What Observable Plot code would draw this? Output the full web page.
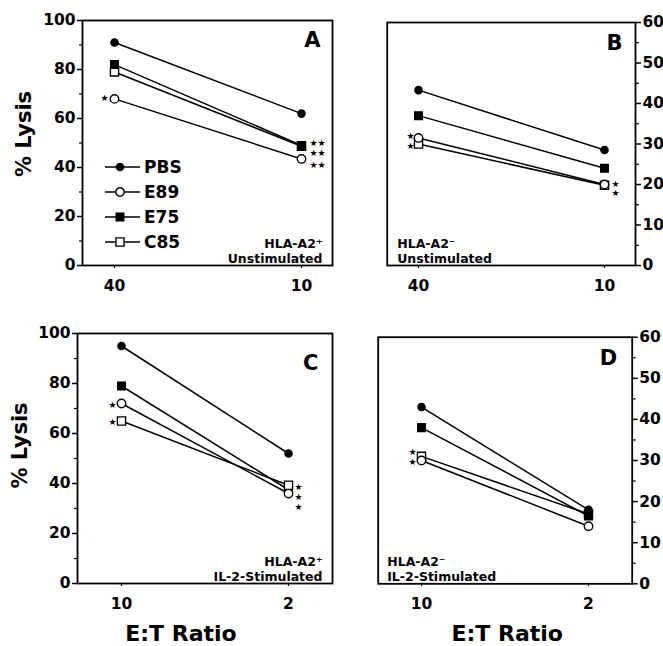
<!DOCTYPE html>
<html><head><meta charset="utf-8">
<script src="https://cdn.jsdelivr.net/npm/d3@7"></script>
<script src="https://cdn.jsdelivr.net/npm/@observablehq/plot@0.6"></script>
<style>
body{margin:0;background:#fff;}
#chart{position:relative;width:663px;height:646px;font-family:"DejaVu Sans",sans-serif;}
#chart > svg{position:absolute;}
</style></head><body><div id="chart"></div>
<script>
// Series (treatment groups)
const series = ["PBS", "E89", "E75", "C85"];
const seriesSymbol = {PBS: "circle", E89: "circle", E75: "square", C85: "square"};
const seriesFill = {PBS: "black", E89: "white", E75: "black", C85: "white"};
const seriesR = {PBS: 3.6, E89: 4.2, E75: 4.3, C85: 4.6};

// E:T ratios
const ratiosTop = ["40", "10"];
const ratiosBottom = ["10", "2"];

// % Lysis values, in series order [PBS, E89, E75, C85]
const lysisA_first = [91, 68, 82, 79];     // E:T 40
const lysisA_second = [62, 43.5, 49, 48.7]; // E:T 10
const lysisB_first = [43.3, 31.5, 37, 30];
const lysisB_second = [28.5, 20, 24, 19.8];
const lysisC_first = [95, 72, 79, 65];     // E:T 10
const lysisC_second = [52, 36, 37.5, 39.3]; // E:T 2
const lysisD_first = [43, 30, 38, 31];
const lysisD_second = [18, 14, 16.5, 17];

// Axis ticks
const ticksLeftMajor = [0, 20, 40, 60, 80, 100];
const ticksLeftMinor = [10, 30, 50, 70, 90];
const ticksRightMajor = [0, 10, 20, 30, 40, 50, 60];
const ticksRightMinor = [5, 15, 25, 35, 45, 55];

// Significance marks
const starsA = [
  {ratio: "40", value: 68.5, mark: "★", side: "left"},
  {ratio: "10", value: 50.3, mark: "★★", side: "right"},
  {ratio: "10", value: 46.2, mark: "★★", side: "right"},
  {ratio: "10", value: 41.2, mark: "★★", side: "right"}
];
const starsB = [
  {ratio: "40", value: 32.1, mark: "★", side: "left"},
  {ratio: "40", value: 29.5, mark: "★", side: "left"},
  {ratio: "10", value: 20.3, mark: "★", side: "right"},
  {ratio: "10", value: 17.9, mark: "★", side: "right"}
];
const starsC = [
  {ratio: "10", value: 71.5, mark: "★", side: "left"},
  {ratio: "10", value: 64.8, mark: "★", side: "left"},
  {ratio: "2", value: 38.6, mark: "★", side: "right"},
  {ratio: "2", value: 34.8, mark: "★", side: "right"},
  {ratio: "2", value: 30.9, mark: "★", side: "right"}
];
const starsD = [
  {ratio: "10", value: 32.2, mark: "★", side: "left"},
  {ratio: "10", value: 29.8, mark: "★", side: "left"}
];

const panelLetters = ["A", "B", "C", "D"];
const conditions = [
  "HLA-A2⁺\nUnstimulated",
  "HLA-A2⁻\nUnstimulated",
  "HLA-A2⁺\nIL-2-Stimulated",
  "HLA-A2⁻\nIL-2-Stimulated"
];
const yLabel = "% Lysis";
const xLabel = "E:T Ratio";

function drawPanel(cfg) {
  const data = [];
  series.forEach((s, i) => {
    data.push({series: s, ratio: cfg.ratios[0], value: cfg.first[i]});
    data.push({series: s, ratio: cfg.ratios[1], value: cfg.second[i]});
  });
  const marks = [
    Plot.axisY({anchor: cfg.yAnchor, ticks: cfg.yMajor, tickSize: 5, tickPadding: 2, fontSize: 15.5, label: null, strokeWidth: 1.5}),
    Plot.axisY({anchor: cfg.yAnchor, ticks: cfg.yMinor, tickSize: 3, tickFormat: () => "", label: null, strokeWidth: 1.2}),
    Plot.axisX({anchor: "bottom", tickSize: 3, tickPadding: 11, fontSize: 15.5, label: null, strokeWidth: 1.2}),
    Plot.frame({strokeWidth: 1.8}),
    Plot.line(data, {x: "ratio", y: "value", z: "series", stroke: "black", strokeWidth: 1.5}),
    ...cfg.order.map(s => Plot.dot(data.filter(d => d.series === s), {
      x: "ratio", y: "value", symbol: seriesSymbol[s], r: seriesR[s],
      fill: seriesFill[s], stroke: "black", strokeWidth: 1.4
    })),
    Plot.text(cfg.stars.filter(d => d.side === "left"), {x: "ratio", y: "value", text: "mark", textAnchor: "end", lineAnchor: "middle", dx: cfg.starLeftDx, dy: 0.5, fontSize: 9, fontWeight: "normal"}),
    Plot.text(cfg.stars.filter(d => d.side === "right"), {x: "ratio", y: "value", text: "mark", textAnchor: "start", lineAnchor: "middle", dx: cfg.starRightDx, dy: 0.5, fontSize: 9, fontWeight: "normal"}),
    Plot.text([cfg.letter], {text: d => d, frameAnchor: "top-right", textAnchor: "end", lineAnchor: "top", dx: cfg.letterDx, dy: cfg.letterDy, fontSize: 21}),
    Plot.text([cfg.condition], {text: d => d, frameAnchor: cfg.condAnchor, textAnchor: cfg.condAnchor === "bottom-left" ? "start" : "end", lineAnchor: "bottom", dx: cfg.condDx, dy: cfg.condDy, fontSize: 12.5, lineHeight: 1.2})
  ];
  if (cfg.showYLabel) marks.push(Plot.text([yLabel], {text: d => d, frameAnchor: "left", rotate: -90, textAnchor: "middle", lineAnchor: "middle", dx: cfg.yLabelDx, dy: cfg.yLabelDy, fontSize: 21}));
  if (cfg.showXLabel) marks.push(Plot.text([xLabel], {text: d => d, frameAnchor: "bottom", textAnchor: "middle", lineAnchor: "middle", dx: cfg.xLabelDx, dy: 50, fontSize: 22}));
  const svg = Plot.plot({
    width: cfg.width, height: cfg.height,
    marginLeft: cfg.ml, marginRight: cfg.mr, marginTop: cfg.mt, marginBottom: cfg.mb,
    x: {type: "point", domain: cfg.ratios, padding: cfg.xPad},
    y: {domain: cfg.yDomain},
    style: {fontFamily: "DejaVu Sans", fontWeight: "bold", background: "transparent", overflow: "visible", color: "black"},
    marks
  });
  svg.style.left = cfg.left + "px";
  svg.style.top = cfg.top + "px";
  document.getElementById("chart").appendChild(svg);
}

drawPanel({
  left: 0, top: 0, width: 335, height: 300, ml: 82, mr: 3, mt: 20, mb: 35, xPad: 0.165,
  ratios: ratiosTop, first: lysisA_first, second: lysisA_second,
  yDomain: [0, 100], yAnchor: "left", yMajor: ticksLeftMajor, yMinor: ticksLeftMinor,
  order: ["PBS", "C85", "E89", "E75"], stars: starsA, starLeftDx: -6, starRightDx: 8,
  letter: panelLetters[0], letterDx: -12, letterDy: 12,
  condition: conditions[0], condAnchor: "bottom-right", condDx: -10, condDy: -3,
  showYLabel: true, yLabelDx: -58, yLabelDy: -9
});
drawPanel({
  left: 335, top: 0, width: 328, height: 300, ml: 51.7, mr: 28, mt: 22, mb: 35, xPad: 0.165,
  ratios: ratiosTop, first: lysisB_first, second: lysisB_second,
  yDomain: [0, 60], yAnchor: "right", yMajor: ticksRightMajor, yMinor: ticksRightMinor,
  order: ["PBS", "E75", "C85", "E89"], stars: starsB, starLeftDx: -4, starRightDx: 7,
  letter: panelLetters[1], letterDx: -13, letterDy: 13,
  condition: conditions[1], condAnchor: "bottom-left", condDx: 10, condDy: -3
});
drawPanel({
  left: 0, top: 300, width: 335, height: 346, ml: 77, mr: 3, mt: 33, mb: 63, xPad: 0.26,
  ratios: ratiosBottom, first: lysisC_first, second: lysisC_second,
  yDomain: [0, 100], yAnchor: "left", yMajor: ticksLeftMajor, yMinor: ticksLeftMinor,
  order: ["PBS", "E75", "E89", "C85"], stars: starsC, starLeftDx: -5, starRightDx: 6,
  letter: panelLetters[2], letterDx: -14, letterDy: 22,
  condition: conditions[2], condAnchor: "bottom-right", condDx: -10, condDy: -3,
  showYLabel: true, yLabelDx: -57, yLabelDy: -13,
  showXLabel: true, xLabelDx: -24
});
drawPanel({
  left: 335, top: 300, width: 328, height: 346, ml: 42.7, mr: 31.3, mt: 36.7, mb: 62.7, xPad: 0.26,
  ratios: ratiosBottom, first: lysisD_first, second: lysisD_second,
  yDomain: [0, 60], yAnchor: "right", yMajor: ticksRightMajor, yMinor: ticksRightMinor,
  order: ["C85", "E89", "E75", "PBS"], stars: starsD, starLeftDx: -5, starRightDx: 6,
  letter: panelLetters[3], letterDx: -15, letterDy: 13,
  condition: conditions[3], condAnchor: "bottom-left", condDx: 9, condDy: -3,
  showXLabel: true, xLabelDx: 2
});

// Legend for panel A
const legend = d3.select("#chart").append("svg")
  .attr("width", 90).attr("height", 100)
  .style("left", "100px").style("top", "155px")
  .style("font-family", "DejaVu Sans").style("font-weight", "bold");
series.forEach((s, i) => {
  const g = legend.append("g").attr("transform", `translate(0,${12 + i * 25})`);
  g.append("line").attr("x1", 5).attr("x2", 40).attr("stroke", "black").attr("stroke-width", 1.5);
  g.append("path")
    .attr("d", d3.symbol(seriesSymbol[s] === "circle" ? d3.symbolCircle : d3.symbolSquare, Math.PI * seriesR[s] * seriesR[s])())
    .attr("transform", "translate(20,0)")
    .attr("fill", seriesFill[s]).attr("stroke", "black").attr("stroke-width", 1.4);
  g.append("text").attr("x", 44).attr("y", 0).attr("dy", "0.36em").attr("font-size", 17).text(s);
});
</script></body></html>
